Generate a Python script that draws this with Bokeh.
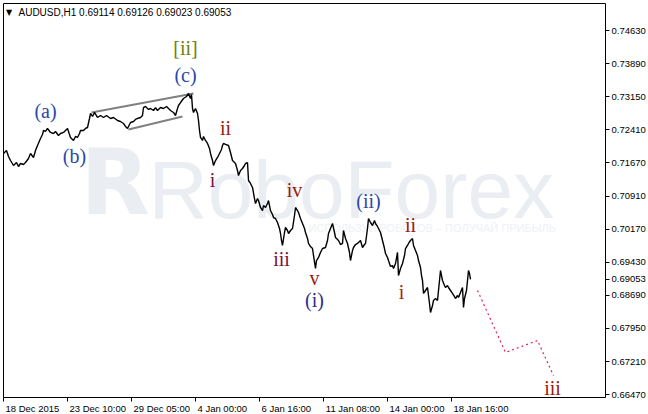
from bokeh.plotting import figure
from bokeh.models import FixedTicker, Label, ColumnDataSource, Range1d, LinearAxis
from bokeh.embed import file_html
from bokeh.resources import INLINE
from bokeh.core.properties import value

# ---------------- data ----------------
symbol_name = "AUDUSD,H1  0.69114 0.69126 0.69023 0.69053"
last_close = 0.69053

bars = [0, 3, 5, 7, 10, 13, 15, 17, 20, 22, 25, 27, 30, 32, 34, 37, 39, 40, 42, 44, 47, 50, 52, 55, 57, 60, 62, 64, 66, 67,
        70, 72, 74, 76, 77, 80, 82, 84, 86, 87, 89, 91, 94, 97, 100, 103, 107, 110, 114, 117, 120, 122, 124, 126, 127, 130,
        132, 134, 137, 139, 140, 142, 145, 147, 150, 152, 154, 157, 160, 163, 167, 170, 172, 174, 175, 177, 180, 183, 185,
        187, 188, 189, 190, 192, 194, 195, 196, 197, 199, 200, 202, 204, 206, 207, 209, 210, 212, 214, 216, 218, 219, 220,
        222, 225, 227, 229, 232, 234, 235, 237, 239, 241, 242, 244, 245, 247, 249, 251, 252, 254, 255, 257, 259, 260, 262,
        264, 265, 267, 269, 270, 272, 274, 276, 277, 278, 279, 281, 282, 284, 285, 287, 289, 291, 292, 294, 295, 297, 299,
        301, 302, 304, 305, 307, 309, 310, 312, 313, 315, 317, 319, 322, 324, 325, 327, 329, 331, 332, 335, 337, 339, 340,
        342, 344, 346, 347, 349, 350, 352, 354, 357, 359, 361, 362, 364, 365, 367, 369, 371, 372, 374, 375, 377, 379, 381,
        382, 384, 385, 387, 389, 390, 392, 394, 395, 397, 399, 401, 402, 404, 405, 407, 409, 410, 412, 414, 415, 417, 418,
        419, 420, 422, 424, 425, 426, 427, 429, 430, 432, 434, 435, 437, 439, 441, 442, 444, 445, 447, 449, 451, 452, 454,
        455, 457, 459, 460, 461, 463, 464, 465, 466, 467]
close = [0.71874, 0.71941, 0.71806, 0.71716, 0.71604, 0.71671, 0.71582, 0.71649, 0.71627, 0.71671, 0.71761, 0.71874,
         0.71784, 0.71941, 0.72053, 0.72210, 0.72300, 0.72389, 0.72367, 0.72434, 0.72345, 0.72322, 0.72367, 0.72277,
         0.72322, 0.72345, 0.72389, 0.72434, 0.72300, 0.72233, 0.72165, 0.72255, 0.72233, 0.72322, 0.72389, 0.72389,
         0.72434, 0.72456, 0.72658, 0.72770, 0.72703, 0.72793, 0.72681, 0.72725, 0.72681, 0.72725, 0.72658, 0.72681,
         0.72613, 0.72591, 0.72546, 0.72479, 0.72434, 0.72524, 0.72568, 0.72591, 0.72636, 0.72658, 0.72681, 0.72725,
         0.72904, 0.72927, 0.72860, 0.72882, 0.72837, 0.72904, 0.72837, 0.72904, 0.72882, 0.72927, 0.72837, 0.72793,
         0.72725, 0.72882, 0.72949, 0.73016, 0.73106, 0.73151, 0.73218, 0.73106, 0.73196, 0.72882, 0.72793, 0.72882,
         0.72770, 0.72613, 0.72389, 0.72233, 0.72165, 0.72255, 0.72165, 0.72098, 0.71986, 0.71874, 0.71716, 0.71604,
         0.71716, 0.71784, 0.71874, 0.71964, 0.72053, 0.72098, 0.72076, 0.72053, 0.71896, 0.71716, 0.71649, 0.71492,
         0.71380, 0.71492, 0.71537, 0.71604, 0.71649, 0.71671, 0.71268, 0.71201, 0.71111, 0.70864, 0.70752, 0.70864,
         0.70819, 0.70663, 0.70595, 0.70707, 0.70663, 0.70752, 0.70819, 0.70595, 0.70506, 0.70438, 0.70416, 0.70326,
         0.70192, 0.70080, 0.69923, 0.69811, 0.70102, 0.70214, 0.70147, 0.70080, 0.70147, 0.70192, 0.70483, 0.70663,
         0.70595, 0.70550, 0.70416, 0.70304, 0.70192, 0.70102, 0.69968, 0.69856, 0.69788, 0.69743, 0.69587, 0.69295,
         0.69474, 0.69542, 0.69654, 0.69743, 0.69766, 0.69923, 0.70080, 0.70192, 0.70304, 0.70102, 0.69990, 0.69923,
         0.69833, 0.69856, 0.70147, 0.69968, 0.69856, 0.69654, 0.69474, 0.69698, 0.69766, 0.69833, 0.69856, 0.69923,
         0.69766, 0.69833, 0.69856, 0.70192, 0.70416, 0.70326, 0.70259, 0.70371, 0.70304, 0.70237, 0.70192, 0.70102,
         0.69923, 0.69743, 0.69631, 0.69542, 0.69474, 0.69340, 0.69362, 0.69295, 0.69407, 0.69654, 0.69138, 0.69295,
         0.69407, 0.69587, 0.69743, 0.69811, 0.69856, 0.69923, 0.69968, 0.69811, 0.69698, 0.69587, 0.69474, 0.69318,
         0.69138, 0.69026, 0.68735, 0.68802, 0.68869, 0.68690, 0.68510, 0.68309, 0.68466, 0.68578, 0.68622, 0.68578,
         0.68802, 0.69250, 0.69026, 0.68914, 0.68869, 0.68914, 0.68869, 0.68802, 0.68735, 0.68667, 0.68622, 0.68690,
         0.68645, 0.68757, 0.68869, 0.68421, 0.68622, 0.68802, 0.69026, 0.69250, 0.69183, 0.69053]

# forecast path (dashed)
forecast_bars = [474, 502, 534, 550]
forecast_price = [0.68802, 0.67412, 0.67681, 0.66896]

# triangle (channel) lines
upper_bars = [88, 190]
upper_price = [0.72793, 0.73218]
lower_bars = [125, 179]
lower_price = [0.72412, 0.72703]

# wave labels
wave_text = ["[ii]", "(c)", "(a)", "(b)", "ii", "i", "iv", "iii", "v", "(i)", "(ii)", "ii", "i", "iii"]
wave_bar = [182, 182, 42, 71, 222, 209, 291, 278, 311, 311, 365, 407, 398, 549]
wave_price = [0.74249, 0.73644, 0.72837, 0.71806, 0.72434, 0.71268, 0.71044, 0.69519, 0.69093, 0.68578,
              0.70819, 0.70281, 0.68757, 0.66605]
wave_color = ["#6f7f0a", "#2a48a8", "#2a48a8", "#2a48a8", "#9a1a0c", "#7e1040", "#9a1a0c", "#7e1040", "#9a1a0c",
              "#302e80", "#2a48a8", "#9a1a0c", "#a3260e", "#9a1a0c"]

# axes
price_ticks = [0.74630, 0.73890, 0.73150, 0.72410, 0.71670, 0.70910, 0.70170, 0.69430, 0.68690, 0.67950,
               0.67210, 0.66470]
date_tick_bars = [0, 64, 128, 192, 256, 320, 384, 448]
date_tick_labels = ["18 Dec 2015", "23 Dec 10:00", "29 Dec 05:00", "4 Jan 00:00", "6 Jan 16:00",
                    "11 Jan 08:00", "14 Jan 00:00", "18 Jan 16:00"]

# ---------------- figure ----------------
FRAME_W, FRAME_H = 602, 394
X0, X1 = 0, 602
p = figure(frame_width=FRAME_W, frame_height=FRAME_H, output_backend="svg", toolbar_location=None,
           x_range=Range1d(X0, X1), y_range=Range1d(0.66403, 0.75236),
           y_axis_location="right", min_border_left=3, min_border_top=3,
           min_border_right=43, min_border_bottom=17)
p.background_fill_color = "white"
p.border_fill_color = "white"
p.outline_line_color = "black"
p.outline_line_width = 1
p.grid.visible = False

AX_FONT = "Liberation Sans"
AX_SIZE = 9.5

def style_axis(ax):
    ax.axis_line_color = None
    ax.major_tick_line_color = "black"
    ax.major_tick_out = 4
    ax.major_tick_in = 0
    ax.minor_tick_line_color = None
    ax.major_label_text_font = AX_FONT
    ax.major_label_text_font_size = "%gpx" % AX_SIZE
    ax.major_label_text_color = "black"
    ax.major_label_standoff = 2

yax = p.yaxis[0]
style_axis(yax)
yax.ticker = FixedTicker(ticks=price_ticks + [last_close])
yax.major_label_overrides = {t: "%.5f" % t for t in price_ticks + [last_close]}

# bottom: tick marks at the dates, labels left-aligned next to them (second axis)
xa = p.xaxis[0]
style_axis(xa)
xa.ticker = FixedTicker(ticks=date_tick_bars)
xa.major_label_overrides = {t: "" for t in date_tick_bars}
xa.major_label_text_font_size = "0px"
xa.major_label_standoff = 0

CHAR_W = {" ": 0.278, ":": 0.278, "D": 0.722, "J": 0.5, "e": 0.556, "c": 0.5, "a": 0.556, "n": 0.556}
def text_width_px(s):
    return sum(CHAR_W.get(ch, 0.556) for ch in s) * AX_SIZE

px_per_bar = FRAME_W / (X1 - X0)
label_centers = [b + (2 + text_width_px(s) / 2) / px_per_bar for b, s in zip(date_tick_bars, date_tick_labels)]
xb = LinearAxis()
style_axis(xb)
xb.major_tick_line_color = None
xb.major_tick_out = 0
xb.major_label_standoff = 1
xb.ticker = FixedTicker(ticks=label_centers)
xb.major_label_overrides = dict(zip(label_centers, date_tick_labels))
p.add_layout(xb, "below")

# watermark
WM = "#eaeef2"
p.text(x=[77], y=[0.70035], text=["R"], text_font=value("DejaVu Sans"), text_font_style="bold",
       text_font_size="90px", text_color=WM, text_baseline="bottom", text_align="left")
p.text(x=[145], y=[0.70035], text=["RoboForex"], text_font=value("Liberation Sans"),
       text_font_size="82px", text_color=WM, text_baseline="bottom", text_align="left")
p.text(x=[305], y=[0.70195], text=["ИСПОЛЬЗУЙ РОБОТОВ – ПОЛУЧАЙ ПРИБЫЛЬ"], text_font=value("Liberation Sans"),
       text_font_size="11px", text_color="#eef1f4", text_baseline="middle", text_align="left")

# channel lines
p.line(upper_bars, upper_price, line_color="#808080", line_width=2)
p.line(lower_bars, lower_price, line_color="#808080", line_width=2)

# price
p.line(bars, close, line_color="black", line_width=1.4)

# forecast
p.line(forecast_bars, forecast_price, line_color="#e0245a", line_width=1.2, line_dash="2 3")

# wave labels
src = ColumnDataSource(dict(x=wave_bar, y=wave_price, t=wave_text, c=wave_color))
p.text(x="x", y="y", text="t", text_color="c", source=src, text_font=value("Liberation Serif"),
       text_font_size="20px", text_align="center", text_baseline="middle")

# header
p.add_layout(Label(x=2.5, y=0.75034, text="\u25BC", text_font="DejaVu Sans", text_font_size="8px",
                   text_color="black", text_baseline="middle", text_align="left"))
p.add_layout(Label(x=15, y=0.75034, text=symbol_name, text_font=AX_FONT, text_font_size="10px",
                   text_color="black", text_baseline="middle", text_align="left"))

open("out.html", "w").write(file_html(p, INLINE))
